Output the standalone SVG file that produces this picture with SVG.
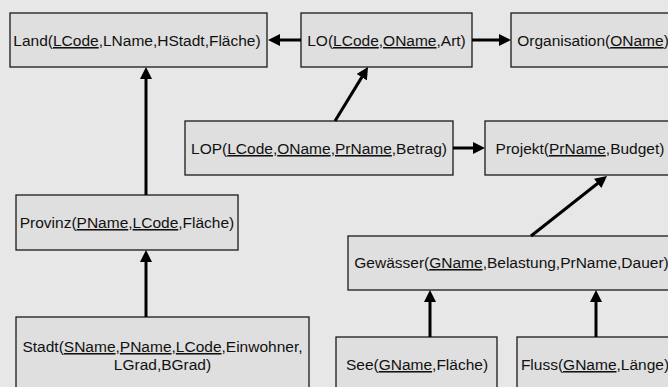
<svg xmlns="http://www.w3.org/2000/svg" width="668" height="387" viewBox="0 0 668 387">
<style>
.box{fill:#dfdfdf;stroke:#1a1a1a;stroke-width:1.3}
.t{font-family:"Liberation Sans",Arial,Helvetica,sans-serif;font-size:15.5px;fill:#111;text-anchor:middle}
.u{text-decoration:underline}
.c{stroke:#000;stroke-width:3;fill:none;marker-end:url(#ah)}
</style>
<defs>
<marker id="ah" viewBox="0 0 12 12" refX="6" refY="6" markerWidth="12" markerHeight="12" markerUnits="userSpaceOnUse" orient="auto">
<path d="M0,0 L12,6 L0,12 z" fill="#000"/>
</marker>
</defs>
<rect width="668" height="387" fill="#e7e7e7"/>
<g id="land"><rect class="box" x="10" y="13" width="257" height="54"/>
<text class="t" x="137" y="46">Land(<tspan class="u">LCode</tspan>,LName,HStadt,Fläche)</text></g>
<g id="lo"><rect class="box" x="301" y="13" width="171" height="54"/>
<text class="t" x="386.5" y="46">LO(<tspan class="u">LCode</tspan>,<tspan class="u">OName</tspan>,Art)</text></g>
<g id="organisation"><rect class="box" x="511" y="13" width="164" height="54"/>
<text class="t" x="593" y="46">Organisation(<tspan class="u">OName</tspan>)</text></g>
<g id="lop"><rect class="box" x="185" y="121" width="268" height="54"/>
<text class="t" x="319" y="154">LOP(<tspan class="u">LCode</tspan>,<tspan class="u">OName</tspan>,<tspan class="u">PrName</tspan>,Betrag)</text></g>
<g id="projekt"><rect class="box" x="485" y="121" width="190" height="54"/>
<text class="t" x="580" y="154">Projekt(<tspan class="u">PrName</tspan>,Budget)</text></g>
<g id="provinz"><rect class="box" x="16" y="195" width="222" height="55"/>
<text class="t" x="127" y="228">Provinz(<tspan class="u">PName</tspan>,<tspan class="u">LCode</tspan>,Fläche)</text></g>
<g id="stadt"><rect class="box" x="16" y="317" width="293" height="83"/>
<text class="t" x="162.5" y="352">Stadt(<tspan class="u">SName</tspan>,<tspan class="u">PName</tspan>,<tspan class="u">LCode</tspan>,Einwohner,</text>
<text class="t" x="162.5" y="370">LGrad,BGrad)</text></g>
<g id="gewaesser"><rect class="box" x="348" y="236" width="327" height="54"/>
<text class="t" x="511.5" y="268">Gewässer(<tspan class="u">GName</tspan>,Belastung,PrName,Dauer)</text></g>
<g id="see"><rect class="box" x="336" y="337" width="161" height="54"/>
<text class="t" x="417" y="370">See(<tspan class="u">GName</tspan>,Fläche)</text></g>
<g id="fluss"><rect class="box" x="517" y="337" width="158" height="54"/>
<text class="t" x="595" y="370">Fluss(<tspan class="u">GName</tspan>,Länge)</text></g>
<g id="connectors">
<path class="c" d="M301,40 L274,40"/>
<path class="c" d="M472,40 L505,40"/>
<path class="c" d="M335,121 L364.9,72.1"/>
<path class="c" d="M453,148 L479,148"/>
<path class="c" d="M531,236 L602.3,179.7"/>
<path class="c" d="M146,195 L146,73"/>
<path class="c" d="M146,317 L146,256"/>
<path class="c" d="M430,337 L430,296"/>
<path class="c" d="M596,337 L596,296"/>
</g>
</svg>
